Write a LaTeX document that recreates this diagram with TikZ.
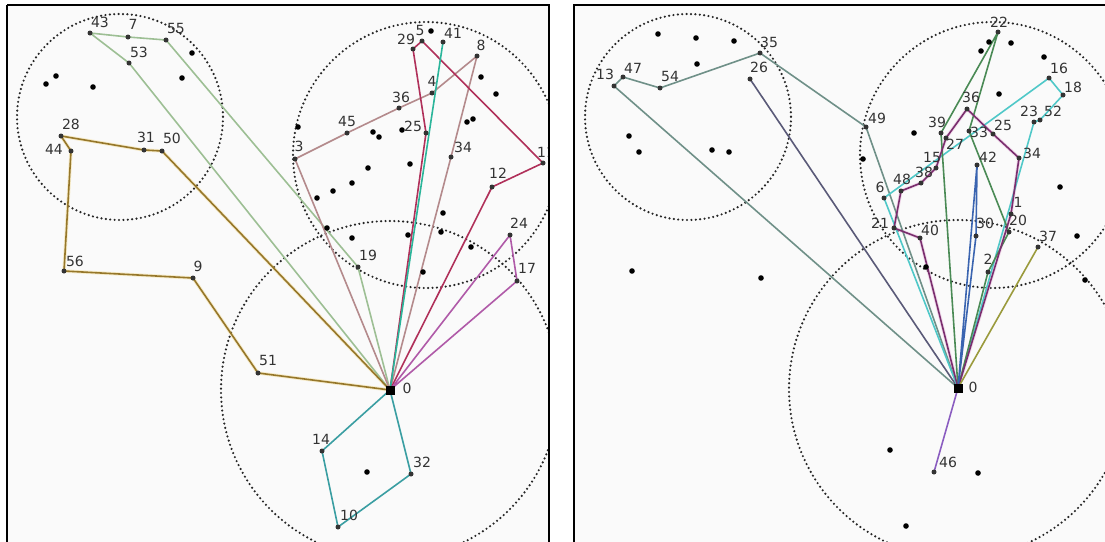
\documentclass[tikz,border=0pt]{standalone}
\usepackage{fontspec}
\setmainfont{DejaVu Sans}
\begin{document}
\begin{tikzpicture}[x=1pt,y=-1pt,
  dot/.style={circle,fill=black,inner sep=0pt,minimum size=5.6pt},
  vdot/.style={circle,fill=black!80,inner sep=0pt,minimum size=5pt},
  depot/.style={rectangle,fill=black,inner sep=0pt,minimum size=9pt},
  lbl/.style={font=\fontsize{14}{14}\selectfont,text=black!80,inner sep=0pt},
  zone/.style={draw=black!85,line width=2.4pt,dash pattern=on 0pt off 4.4pt,line cap=round},
  route/.style={line width=1.6pt,line join=round},
  halo/.style={line width=3.4pt,line join=round,draw opacity=0.35},
  frame/.style={draw=black,line width=1.8pt},
  panelbg/.style={fill=black!2},
]
\definecolor{csage}{HTML}{9DBF94}
\definecolor{cgold}{HTML}{96772A}
\definecolor{cgoldh}{HTML}{F0D070}
\definecolor{crosy}{HTML}{B48A8C}
\definecolor{ccrim}{HTML}{B0305A}
\definecolor{cteal}{HTML}{2AB59A}
\definecolor{corch}{HTML}{B05AA8}
\definecolor{ccadet}{HTML}{3A9EA2}
\definecolor{cgrayg}{HTML}{6F9088}
\definecolor{cslate}{HTML}{5A5A78}
\definecolor{ccyan}{HTML}{4FC8C8}
\definecolor{cgreen}{HTML}{4A8A55}
\definecolor{cplum}{HTML}{7A2E6E}
\definecolor{cplumh}{HTML}{E0A0D0}
\definecolor{cblue}{HTML}{3A64B0}
\definecolor{colive}{HTML}{9A9A3C}
\definecolor{cviolet}{HTML}{8A5CC0}
\useasboundingbox (0,0) rectangle (1105,541);
\fill[white] (0,0) rectangle (1105,541);

% ================= LEFT PANEL =================
\begin{scope}
\clip (7,5) rectangle (549,545);
\fill[panelbg] (7,5) rectangle (549,545);
\draw[zone] (120,117) circle[radius=103];
\draw[zone] (426,155) circle[radius=133];
\draw[zone] (390,390) circle[radius=169];
\foreach \n/\x/\y in {0/390/390,43/90/33,7/128/37,55/166/40,53/129/63,19/358/267,
  28/61/136,44/71/151,31/144/150,50/162/151,56/64/271,9/193/278,51/258/373,
  3/295/159,45/347/133,36/399/108,4/432/93,8/477/56,34/451/157,
  25/426/133,29/413/49,5/422/41,11/543/163,12/492/187,41/443/42,
  24/510/235,17/517/281,14/322/451,10/338/527,32/411/474}
  \coordinate (L\n) at (\x,\y);
\draw[halo,cgoldh] (L0) -- (L50) -- (L31) -- (L28) -- (L44) -- (L56) -- (L9) -- (L51) -- (L0);
\draw[route,csage] (L0) -- (L53) -- (L43) -- (L7) -- (L55) -- (L19) -- (L0);
\draw[route,cgold] (L0) -- (L50) -- (L31) -- (L28) -- (L44) -- (L56) -- (L9) -- (L51) -- (L0);
\draw[route,crosy] (L0) -- (L3) -- (L45) -- (L36) -- (L4) -- (L8) -- (L34) -- (L0);
\draw[route,ccrim] (L0) -- (L25) -- (L29) -- (L5) -- (L11) -- (L12) -- (L0);
\draw[route,cteal] (L0) -- (L41);
\draw[route,corch] (L0) -- (L24) -- (L17) -- (L0);
\draw[route,ccadet] (L0) -- (L14) -- (L10) -- (L32) -- (L0);
\foreach \n in {43,7,55,53,19,28,44,31,50,56,9,51,3,45,36,4,8,34,25,29,5,11,12,41,24,17,14,10,32}
  \node[vdot] (dL\n) at (L\n) {};
\foreach \x/\y [count=\i] in {192/53,182/78,56/76,46/84,93/87,431/31,298/127,373/132,379/137,
  402/130,467/122,473/119,481/77,496/94,368/168,410/164,352/183,333/191,317/198,
  327/228,352/238,408/235,443/213,441/232,471/247,423/272,367/472}
  \node[dot] (uL\i) at (\x,\y) {};
\node[depot] (dL0) at (L0) {};
\foreach \t/\x/\y in {43/100/22,7/133/24,55/176/28,53/139/52,28/71/124,44/54/149,31/146/137,
  50/172/138,56/75/261,9/198/266,51/268/360,0/407/388,14/321/439,32/422/462,10/349/515,
  17/527/268,19/368/255,24/519/223,12/498/173,11/546/152,34/463/147,25/413/126,3/299/146,
  45/347/121,36/401/97,4/432/81,29/406/39,5/420/30,41/453/33,8/481/45}
  \node[lbl] (tL\t) at (\x,\y) {\t};
\end{scope}
\draw[frame] (7,5) -- (549,5) -- (549,545) (7,5) -- (7,545);

% ================= RIGHT PANEL =================
\begin{scope}
\clip (574,5) rectangle (1116,545);
\fill[panelbg] (574,5) rectangle (1116,545);
\draw[zone] (688,117) circle[radius=103];
\draw[zone] (993,155) circle[radius=133];
\draw[zone] (958,389) circle[radius=169];
\foreach \n/\x/\y in {0/958/388,13/614/86,47/623/77,54/660/88,35/760/53,49/866/127,26/750/79,
  6/884/198,33/969/131,16/1049/78,18/1063/95,52/1040/120,23/1034/122,
  39/941/133,22/998/32,20/1009/232,2/988/272,
  40/920/238,21/894/228,48/901/191,38/921/183,15/936/168,27/946/138,36/967/109,
  25/993/134,34/1019/158,1/1011/214,42/977/165,30/976/236,37/1038/247,46/934/472}
  \coordinate (R\n) at (\x,\y);
\draw[halo,cplumh] (R0) -- (R1) -- (R34) -- (R25) -- (R36) -- (R27) -- (R15) -- (R38) -- (R48) -- (R21) -- (R40) -- (R0);
\draw[route,cgrayg] (R0) -- (R13) -- (R47) -- (R54) -- (R35) -- (R49) -- (R0);
\draw[route,cslate] (R0) -- (R26);
\draw[route,ccyan] (R0) -- (R6) -- (R16) -- (R18) -- (R52) -- (R23) -- (R0);
\draw[route,cgreen] (R0) -- (R39) -- (R22) -- (R33) -- (R20) -- (R2) -- (R0);
\draw[route,cplum] (R0) -- (R1) -- (R34) -- (R25) -- (R36) -- (R27) -- (R15) -- (R38) -- (R48) -- (R21) -- (R40) -- (R0);
\draw[route,cblue] (R0) -- (R42) -- (R30) -- (R0);
\draw[route,colive] (R0) -- (R37);
\draw[route,cviolet] (R0) -- (R46);
\foreach \n in {13,47,54,35,49,26,6,33,16,18,52,23,39,22,20,2,40,21,48,38,15,27,36,25,34,1,42,30,37,46}
  \node[vdot] (dR\n) at (R\n) {};
\foreach \x/\y [count=\i] in {658/34,696/38,734/41,697/64,629/136,639/152,712/150,729/152,632/271,761/278,
  989/42,981/51,1011/43,1044/57,999/94,914/133,863/159,1060/187,1077/236,1085/280,926/267,
  890/450,978/473,906/526}
  \node[dot] (uR\i) at (\x,\y) {};
\node[depot] (dR0) at (R0) {};
\foreach \t/\x/\y in {35/769/42,26/759/67,13/605/74,47/633/68,54/670/76,22/999/22,16/1059/68,
  18/1073/87,23/1029/111,52/1053/111,36/971/97,39/937/122,33/979/132,25/1003/125,27/955/144,
  15/932/157,42/988/157,34/1032/153,38/924/172,48/902/179,6/880/187,49/877/118,21/880/223,
  40/930/230,30/985/223,1/1018/202,20/1018/220,37/1048/236,2/988/259,0/973/387,46/948/462}
  \node[lbl] (tR\t) at (\x,\y) {\t};
\end{scope}
\draw[frame] (574,545) -- (574,5) -- (1116,5);
\end{tikzpicture}
\end{document}
